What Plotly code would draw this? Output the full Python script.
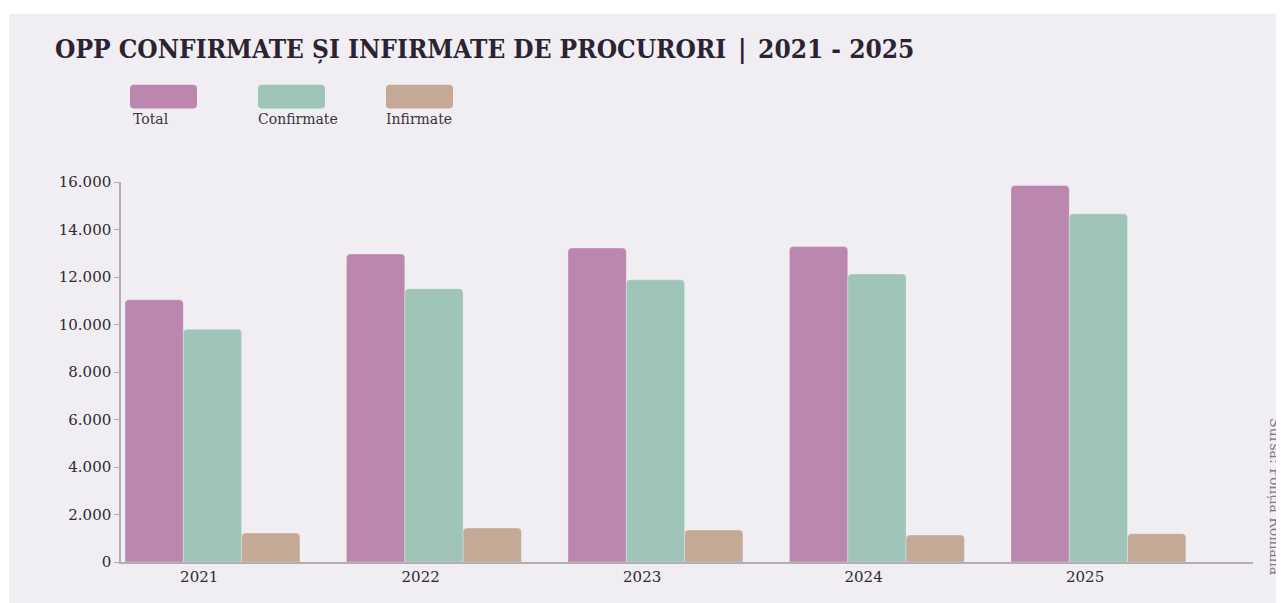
import plotly.graph_objects as go

# ---- data ----
years = ["2021", "2022", "2023", "2024", "2025"]
series_names = ["Total", "Confirmate", "Infirmate"]
total = [11040, 12970, 13220, 13280, 15850]
confirmate = [9800, 11510, 11880, 12130, 14660]
infirmate = [1220, 1430, 1345, 1135, 1190]
y_ticks = [0, 2000, 4000, 6000, 8000, 10000, 12000, 14000, 16000]

colors = ["#bc87ae", "#9fc4b8", "#c4a996"]
panel = "#f0eef2"
serif = "DejaVu Serif"

W, H = 1284, 603
OFF = 8  # page body margin offset
L, R, T, B = 121, 1253, 181.5, 562  # plot area in page px


def px_x(px):
    return (px - L) / (R - L)


def px_y(py):
    return (B - py) / (B - T)


xpos = list(range(len(years)))

fig = go.Figure()
for name, vals, col in zip(series_names, [total, confirmate, infirmate], colors):
    fig.add_trace(go.Bar(
        x=xpos, y=vals, name=name,
        marker=dict(color=col, cornerradius=4,
                    line=dict(color="rgba(255,255,255,0.35)", width=0.8)),
        showlegend=False,
    ))

shapes = []
# background panel
shapes.append(dict(type="rect", xref="paper", yref="paper", layer="below",
                   x0=px_x(9), x1=px_x(1300), y0=px_y(13), y1=px_y(620),
                   fillcolor=panel, line=dict(width=0)))


def rounded(x0, y0, x1, y1, r):
    X0, X1 = px_x(x0), px_x(x1)
    Y0, Y1 = px_y(y0), px_y(y1)
    rx = r / (R - L)
    ry = r / (B - T)
    return (f"M {X0+rx},{Y0} L {X1-rx},{Y0} Q {X1},{Y0} {X1},{Y0-ry} "
            f"L {X1},{Y1+ry} Q {X1},{Y1} {X1-rx},{Y1} L {X0+rx},{Y1} "
            f"Q {X0},{Y1} {X0},{Y1+ry} L {X0},{Y0-ry} Q {X0},{Y0} {X0+rx},{Y0} Z")


annotations = []
legend_x = [130, 258, 386]
label_x = [131, 256, 384]
for name, col, lx, tx in zip(series_names, colors, legend_x, label_x):
    shapes.append(dict(type="path", xref="paper", yref="paper",
                       path=rounded(lx, 84, lx + 67, 108, 4),
                       fillcolor=col, line=dict(width=0)))
    annotations.append(dict(xref="paper", yref="paper", x=px_x(tx), y=px_y(118),
                            text=name, showarrow=False, xanchor="left", yanchor="middle",
                            font=dict(family=serif, size=14, color="#3a3340")))

# title
annotations.append(dict(xref="paper", yref="paper", x=px_x(53), y=px_y(48),
                        text="<b>OPP CONFIRMATE ȘI INFIRMATE DE PROCURORI\u2002|\u20022021 - 2025</b>",
                        showarrow=False, xanchor="left", yanchor="middle",
                        font=dict(family="DejaVu Serif Condensed, DejaVu Serif", size=26,
                                  color="#2b2331")))
# source
annotations.append(dict(xref="paper", yref="paper", x=px_x(1275), y=px_y(496),
                        text="Sursa: Poliția Română", textangle=90,
                        showarrow=False, xanchor="center", yanchor="middle",
                        font=dict(family=serif, size=14, color="#7f7a84")))

fig.update_layout(
    width=W - OFF, height=H - OFF,
    margin=dict(l=L - OFF, r=W - R, t=T - OFF, b=H - B, pad=0),
    paper_bgcolor="white",
    plot_bgcolor="rgba(0,0,0,0)",
    barmode="group", bargap=0.21, bargroupgap=0,
    separators=",.",
    shapes=shapes, annotations=annotations,
    font=dict(family=serif, color="#2f2a33"),
    xaxis=dict(range=[-0.413, 4.698], tickvals=[i - 0.06 for i in xpos], ticktext=years,
               showgrid=False, zeroline=False, showline=True, linecolor="#b3aeb6",
               linewidth=1.5, ticks="", tickfont=dict(family=serif, size=15, color="#2f2a33"),
               fixedrange=True),
    yaxis=dict(range=[0, 16000], tickvals=y_ticks, tickformat=",d",
               showgrid=False, zeroline=False, showline=True, linecolor="#b3aeb6",
               linewidth=1.5, ticks="outside", ticklen=5, tickcolor="#b3aeb6",
               tickfont=dict(family=serif, size=15, color="#2f2a33"), fixedrange=True),
)

fig.write_html("out.html", config={"displayModeBar": False})
